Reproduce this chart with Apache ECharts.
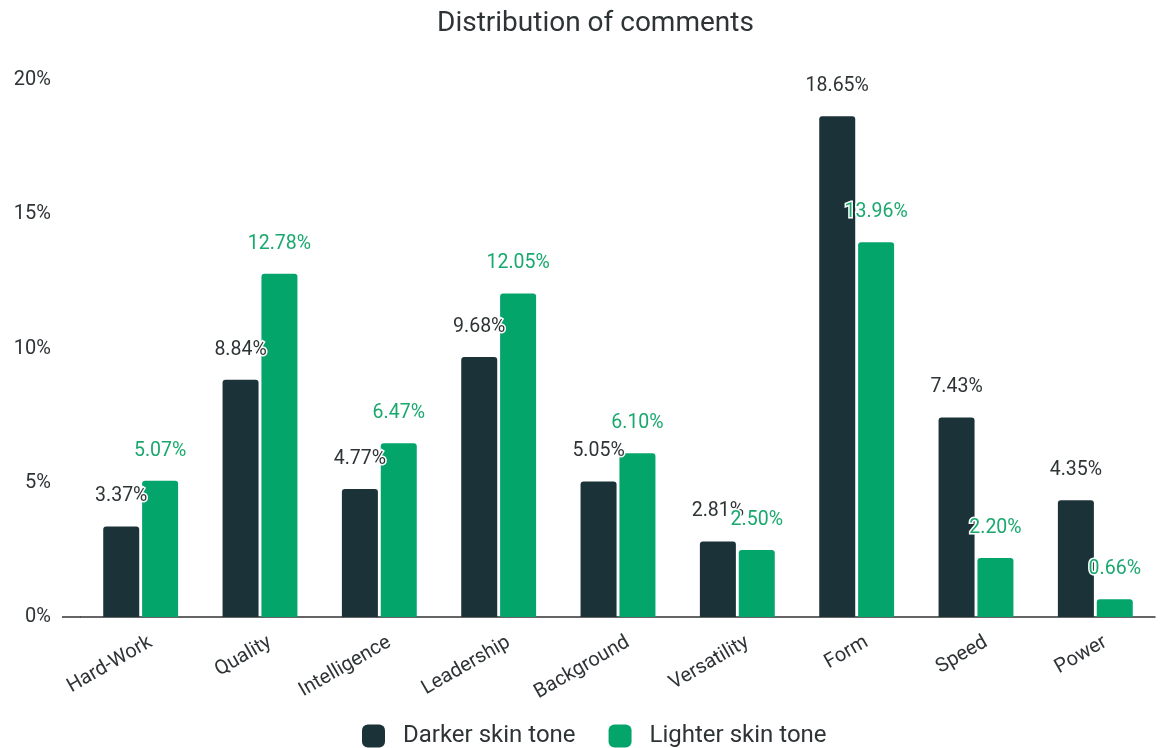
<!DOCTYPE html>
<html>
<head>
<meta charset="utf-8">
<script src="https://cdn.jsdelivr.net/npm/echarts@6/dist/echarts.min.js"></script>
<style>html,body{margin:0;padding:0;background:#fff}#c{width:1169px;height:748px}</style>
</head>
<body>
<div id="c"></div>
<script>
const categories = ['Hard-Work','Quality','Intelligence','Leadership','Background','Versatility','Form','Speed','Power'];
const darker = [3.37, 8.84, 4.77, 9.68, 5.05, 2.81, 18.65, 7.43, 4.35];
const lighter = [5.07, 12.78, 6.47, 12.05, 6.10, 2.50, 13.96, 2.20, 0.66];
const yTicks = [0, 5, 10, 15, 20];

const DARK = '#1c3239';
const GREEN = '#04a56b';
const FONT = 'Roboto, "Noto Sans", sans-serif';
const TXT = '#2e3436';

const chart = echarts.init(document.getElementById('c'), null, {renderer: 'canvas'});
const labelCommon = {
  show: true, position: 'top', distance: 20, fontSize: 19.5, fontFamily: FONT,
  textBorderColor: '#fff', textBorderWidth: 3,
  formatter: p => p.value.toFixed(2) + '%'
};
chart.setOption({
  backgroundColor: '#fff',
  title: {
    text: 'Distribution of comments', left: 432, top: 5,
    textStyle: {fontSize: 28, fontWeight: 'normal', color: TXT, fontFamily: FONT}
  },
  legend: {
    bottom: 0, left: 362, padding: 0, itemWidth: 23, itemHeight: 23, itemGap: 33,
    icon: 'roundRect',
    textStyle: {fontSize: 24, color: TXT, fontFamily: FONT, padding: [0, 0, 0, 13]},
    data: ['Darker skin tone', 'Lighter skin tone']
  },
  grid: [
    {left: 81, right: 14, top: 80, bottom: 131, containLabel: false},
    {left: 91, right: 4, top: 80, bottom: 131, containLabel: false}
  ],
  xAxis: [
    {
      type: 'category', data: categories, gridIndex: 0,
      axisLine: {show: true, lineStyle: {color: '#333', width: 1.5}},
      axisTick: {show: false},
      axisLabel: {show: false}
    },
    {
      type: 'category', data: categories, gridIndex: 1,
      axisLine: {show: false}, axisTick: {show: false}, splitLine: {show: false},
      axisLabel: {rotate: 30, fontSize: 20, color: TXT, fontFamily: FONT, margin: 24, interval: 0}
    }
  ],
  yAxis: [
    {
      type: 'value', gridIndex: 0, min: yTicks[0], max: yTicks[yTicks.length - 1], interval: 5,
      axisLine: {show: false}, axisTick: {show: false}, splitLine: {show: false},
      axisLabel: {formatter: '{value}%', fontSize: 20, color: TXT, fontFamily: FONT, margin: 30}
    },
    {
      type: 'value', gridIndex: 1, min: 0, max: 20, show: false
    }
  ],
  graphic: [{
    type: 'line', shape: {x1: 62, y1: 617, x2: 81, y2: 617},
    style: {stroke: '#333', lineWidth: 1.5}
  }],
  series: [
    {
      name: 'Darker skin tone', type: 'bar', data: darker,
      barWidth: 36, barGap: '8%',
      itemStyle: {color: DARK, borderRadius: [3, 3, 0, 0]},
      label: Object.assign({}, labelCommon, {color: TXT})
    },
    {
      name: 'Lighter skin tone', type: 'bar', data: lighter,
      barWidth: 36,
      itemStyle: {color: GREEN, borderRadius: [3, 3, 0, 0]},
      label: Object.assign({}, labelCommon, {color: '#1aa86e'})
    }
  ]
});
</script>
</body>
</html>
